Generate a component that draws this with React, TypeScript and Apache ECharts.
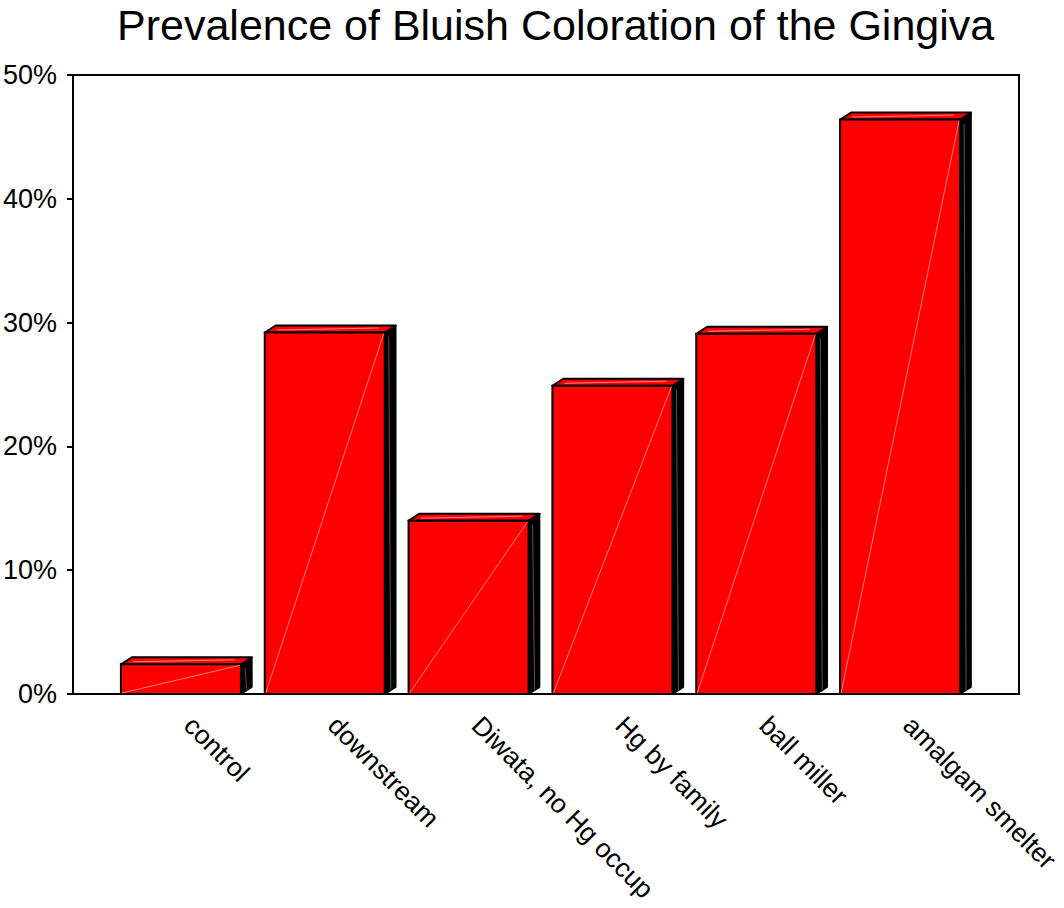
import React, { useEffect, useRef } from "react";
import * as echarts from "echarts";

const titleText = "Prevalence of Bluish Coloration of the Gingiva";
const categories = ["control", "downstream", "Diwata, no Hg occup", "Hg by family", "ball miller", "amalgam smelter"];
const prevalence = [2.4, 29.2, 14.0, 24.9, 29.1, 46.4];
const yTicks = [0, 10, 20, 30, 40, 50];

const FONT = "'Liberation Sans', Arial, sans-serif";

export default function App() {
  const ref = useRef<HTMLDivElement>(null);
  useEffect(() => {
    if (!ref.current) return;
    const chart = echarts.init(ref.current, null, { renderer: "svg" });
    const top = 75;
    const bottom = 908 - 694;
    chart.setOption({
      animation: false,
      backgroundColor: "#ffffff",
      title: {
        text: titleText,
        left: 117,
        top: 3,
        padding: 0,
        textStyle: { fontFamily: FONT, fontSize: 43, fontWeight: "normal", color: "#000" },
      },
      grid: [
        { left: 73, right: 1064 - 1019, top, bottom, show: true, borderColor: "#000", borderWidth: 2, backgroundColor: "transparent", containLabel: false, outerBoundsMode: "none" },
        { left: 109, right: 1064 - 972, top, bottom, containLabel: false, outerBoundsMode: "none" },
      ],
      xAxis: [
        { type: "value", gridIndex: 0, show: false, min: 0, max: 1 },
        {
          type: "category",
          gridIndex: 1,
          data: categories,
          axisLine: { show: false },
          axisTick: { show: false },
          axisLabel: {
            rotate: -45,
            margin: 19,
            padding: [0, 0, 0, 11],
            color: "#000",
            fontFamily: FONT,
            fontSize: 26.5,
            interval: 0,
          },
        },
      ],
      yAxis: [
        {
          type: "value",
          gridIndex: 0,
          min: yTicks[0],
          max: yTicks[yTicks.length - 1],
          interval: 10,
          axisLine: { show: true, lineStyle: { color: "#000", width: 2 } },
          axisTick: { show: true, inside: false, length: 6, lineStyle: { color: "#000", width: 2 } },
          splitLine: { show: false },
          axisLabel: {
            formatter: "{value}%",
            margin: 16,
            color: "#000",
            fontFamily: FONT,
            fontSize: 27,
          },
        },
        { type: "value", gridIndex: 1, min: 0, max: 50, show: false, splitLine: { show: false } },
      ],
      series: [
        {
          type: "custom",
          xAxisIndex: 1,
          yAxisIndex: 1,
          data: prevalence.map((v, i) => [i, v]),
          renderItem: (params: any, api: any) => {
            const idx = api.value(0);
            const v = api.value(1);
            const tp = api.coord([idx, v]);
            const bp = api.coord([idx, 0]);
            const band = api.size([1, 0])[0];
            const w = band * (120 / 143.8);
            const x0 = tp[0] - w / 2;
            const x1 = tp[0] + w / 2;
            const yT = tp[1];
            const yB = bp[1];
            const dx = 11;
            const dy = 7;
            return {
              type: "group",
              children: [
                {
                  type: "polygon",
                  shape: { points: [[x1, yB], [x1, yT], [x1 + dx, yT - dy], [x1 + dx, yB - dy]] },
                  style: { fill: "#000", stroke: "#000", lineWidth: 1.5, lineJoin: "round" },
                },
                {
                  type: "line",
                  shape: { x1: x1 + 4, y1: yT + 4, x2: x1 + 6, y2: yB - 4 },
                  style: { stroke: "rgba(150,150,150,0.7)", lineWidth: 0.8 },
                },
                {
                  type: "polygon",
                  shape: { points: [[x0, yT], [x0 + dx, yT - dy], [x1 + dx, yT - dy], [x1, yT]] },
                  style: { fill: "#ff0000", stroke: "#000", lineWidth: 2, lineJoin: "round" },
                },
                {
                  type: "line",
                  shape: { x1: x0 + 12, y1: yT - 2.5, x2: x1 - 6, y2: yT - 4.5 },
                  style: { stroke: "rgba(255,170,170,0.8)", lineWidth: 1 },
                },
                {
                  type: "rect",
                  shape: { x: x0, y: yT, width: w, height: yB - yT },
                  style: { fill: "#ff0000", stroke: "#000", lineWidth: 2 },
                },
                {
                  type: "line",
                  shape: { x1: x0 + 1, y1: yB - 1, x2: x1 - 1, y2: yT + 1 },
                  style: { stroke: "rgba(255,175,175,0.9)", lineWidth: 0.8 },
                },
              ],
            };
          },
        },
      ],
    });
    return () => chart.dispose();
  }, []);
  return <div ref={ref} style={{ width: 1064, height: 908, position: "absolute", left: 0, top: 0 }} />;
}
